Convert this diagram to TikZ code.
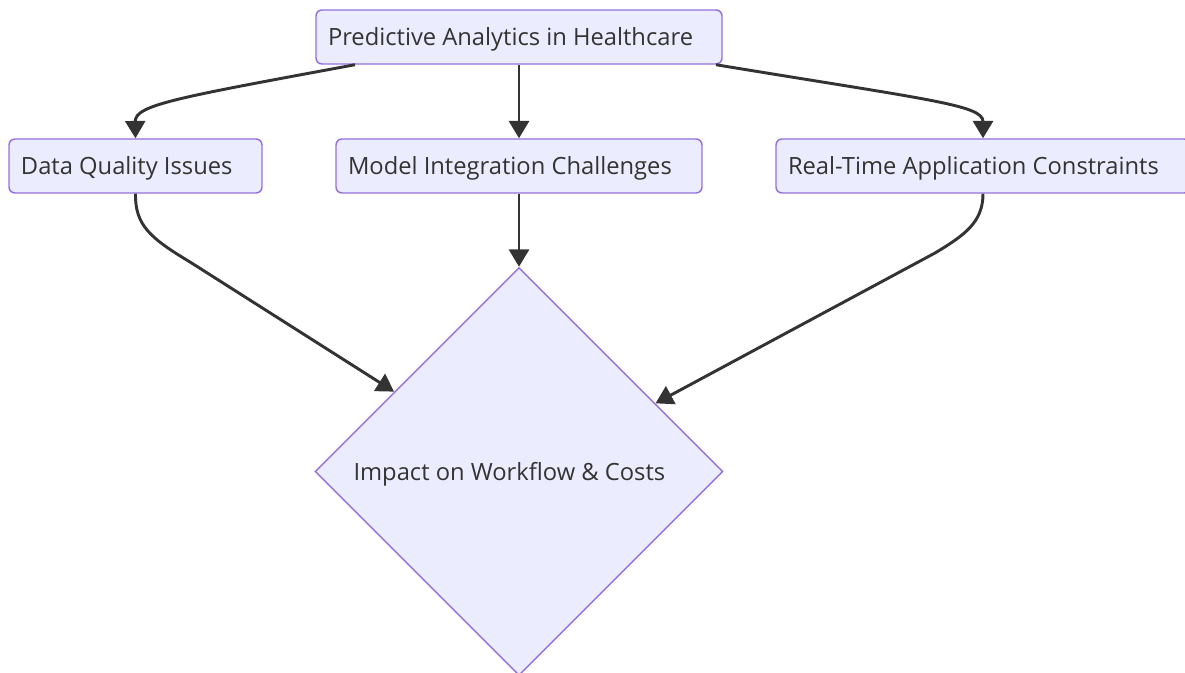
\documentclass[tikz,border=0pt]{standalone}
\usepackage{fontspec}
\setmainfont{Open Sans}
\usetikzlibrary{arrows.meta,shapes.geometric,calc}
\definecolor{boxfill}{HTML}{ECECFF}
\definecolor{boxline}{HTML}{9370DB}
\definecolor{ink}{HTML}{333333}
\newcommand{\bxt}[2]{\raisebox{-2pt}[\height][\depth]{\makebox[#1][l]{#2}}}
\begin{document}
\begin{tikzpicture}[x=0.75pt,y=-0.75pt,
  box/.style={draw=boxline, fill=boxfill, line width=1.1pt, rounded corners=4.5pt,
    minimum height=40.5pt, inner xsep=9pt, inner ysep=0pt, text=ink,
    font=\fontsize{17.8}{20}\selectfont},
  dia/.style={diamond, draw=boxline, fill=boxfill, line width=1.1pt, aspect=1,
    minimum width=306pt, minimum height=306pt, inner sep=0pt},
  edge/.style={draw=ink, line width=2.2pt, -{Triangle[length=13pt,width=15pt]}}
]
\useasboundingbox (0,0) rectangle (1185,673);
\node[box] (top) at (519,37) {\bxt{286.5pt}{Predictive Analytics in Healthcare}};
\node[box] (dq) at (135.5,166) {\bxt{171.75pt}{Data Quality Issues}};
\node[box] (mi) at (519,166) {\bxt{256.5pt}{Model Integration Challenges}};
\node[box] (rt) at (983,166) {\bxt{292.5pt}{Real-Time Application Constraints}};
\node[dia, label={[name=imptext, anchor=west, inner sep=0pt, xshift=29.25pt, yshift=-2pt, text=ink, font=\fontsize{17.8}{20}\selectfont]west:Impact on Workflow \& Costs}] (imp) at (519,471.5) {};

\draw[edge] ([shift={(-164,0)}]top.south) .. controls (175,98) and (135,105) .. (dq.north);
\draw[edge] (top.south) -- (mi.north);
\draw[edge] ([shift={(197,0)}]top.south) .. controls (930,100) and (983,105) .. (rt.north);
\draw[edge] (dq.south) .. controls (135,225) and (150,238) .. (190,262) -- ($(imp.west)!0.39!(imp.north)$);
\draw[edge] (mi.south) -- (imp.north);
\draw[edge] (rt.south) .. controls (983,222) and (965,235) .. (935,253) -- ($(imp.east)!0.333!(imp.north)$);
\end{tikzpicture}
\end{document}
